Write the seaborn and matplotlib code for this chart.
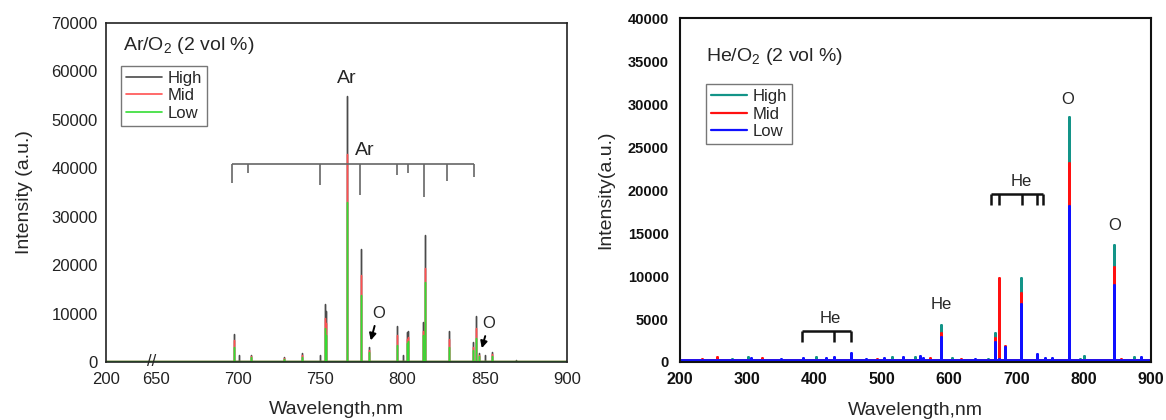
import numpy as np
import pandas as pd
import matplotlib
matplotlib.use("Agg")
import matplotlib.pyplot as plt
from matplotlib.ticker import AutoMinorLocator, FixedLocator
import seaborn as sns

# ---- Ar/O2 panel (stick spectrum: wavelength, intensity per power level)
ar_wl = [697.4, 700.3, 707.8, 728.0, 739.0, 750.0, 752.7, 753.5, 766.0, 774.7,
         779.5, 796.6, 800.0, 802.5, 803.5, 812.2, 813.6, 828.4, 842.6, 844.4,
         846.5, 850.0, 854.2, 868.8]
ar_high = [5700, 1400, 1500, 1100, 1900, 1500, 12000, 10500, 55000, 23300,
           3100, 7400, 1500, 6100, 6500, 8200, 26300, 6300, 4100, 9500,
           1900, 1500, 2100, 500]
ar_mid = [4500, 150, 1300, 900, 1500, 150, 9100, 8000, 43000, 18000,
          2500, 5500, 150, 4800, 5200, 6500, 19500, 4700, 3200, 7000,
          1500, 150, 1700, 300]
ar_low = [3000, 150, 1000, 700, 1100, 150, 7000, 5500, 33000, 13800,
          2000, 3500, 150, 4000, 4300, 5500, 16500, 3000, 2500, 5000,
          1200, 150, 1300, 200]
ar_base = 150

# Ar bracket (line positions marked above the spectrum)
ar_bracket_wl = [696.2, 706.0, 749.8, 774.1, 796.6, 803.3, 813.0, 827.0, 843.4]
ar_bracket_low = [37000, 39000, 36500, 34500, 38600, 39000, 34100, 37400, 38200]
ar_bracket_top = 40900

# ---- He/O2 panel main lines
he_wl = [588.4, 668.6, 674.0, 683.0, 706.8, 731.0, 777.6, 845.5]
he_high = [4300, 3400, 2500, 1700, 9750, 700, 28500, 13600]
he_mid = [3400, 2800, 9750, 1900, 8000, 700, 23100, 11000]
he_low = [2900, 2300, 300, 1750, 6700, 900, 18100, 9000]
he_base = 250

# small spikes along the He/O2 baseline
he_small_wl = [233, 255, 277.7, 301.6, 305.5, 322, 350, 383, 401.7, 417,
               428.6, 454.7, 476, 493, 503, 515, 530.7, 550, 556, 561,
               571, 604, 618, 638, 657.6, 742.4, 752.5, 794.5, 800, 856,
               875, 884.6]
he_small_val = [350, 540, 400, 540, 450, 480, 350, 500, 540, 450,
                620, 1100, 350, 400, 500, 600, 540, 540, 700, 500,
                480, 500, 400, 350, 400, 500, 450, 400, 750, 400,
                600, 600]
he_small_lvl = ["Mid", "Mid", "High", "High", "Low", "Mid", "Low", "Low", "High", "Low",
                "Low", "Low", "Low", "Mid", "Low", "High", "Low", "High", "Low", "Low",
                "Mid", "High", "Mid", "Low", "High", "Low", "Low", "High", "High", "Mid",
                "High", "Low"]

# He brackets
he_br1_wl = [381.0, 428.6, 454.7]
he_br1_top, he_br1_low = 3650, 2360
he_br2_wl = [661.7, 674.0, 708.0, 730.0, 740.0]
he_br2_top, he_br2_low = 19500, 18200

levels = ["High", "Mid", "Low"]


def stick_frame(series, base, lo, hi):
    rows = []
    for name, (wl, vals) in series.items():
        pairs = sorted(zip(wl, vals))
        xs, ys = [lo], [base]
        for w, v in pairs:
            xs += [w, w, w]
            ys += [base, v, base]
        xs.append(hi)
        ys.append(base)
        rows.append(pd.DataFrame({"wavelength": xs, "intensity": ys, "level": name}))
    return pd.concat(rows, ignore_index=True)


sns.set_theme(style="white")
plt.rcParams["font.family"] = ["Liberation Sans", "DejaVu Sans"]
plt.rcParams["mathtext.fontset"] = "custom"
plt.rcParams["mathtext.rm"] = "Liberation Sans"

fig = plt.figure(figsize=(11.66, 4.2), dpi=100)
ax1 = fig.add_axes([0.0909, 0.1381, 0.3954, 0.8071])
ax2 = fig.add_axes([0.5832, 0.1381, 0.4039, 0.8190])

# ---------------- left panel ----------------
ar_df = stick_frame({"High": (ar_wl, ar_high), "Mid": (ar_wl, ar_mid),
                     "Low": (ar_wl, ar_low)}, ar_base, 200, 900)


def fwd(x):
    x = np.asarray(x, dtype=float)
    return np.where(x < 650, (x - 200) * 50.0 / 450.0, 50.0 + (x - 650) * 411.0 / 250.0)


def inv(u):
    u = np.asarray(u, dtype=float)
    return np.where(u < 50, 200 + u * 450.0 / 50.0, 650 + (u - 50) * 250.0 / 411.0)


ax1.set_xscale("function", functions=(fwd, inv))
sns.lineplot(data=ar_df, x="wavelength", y="intensity", hue="level", hue_order=levels,
             palette=["#4a4a4a", "#ff5050", "#33dd33"], estimator=None, sort=False,
             linewidth=1.0, ax=ax1)
ax1.set_xlim(200, 900)
ax1.set_ylim(0, 70000)
ax1.xaxis.set_major_locator(FixedLocator([200, 650, 700, 750, 800, 850, 900]))
ax1.xaxis.set_minor_locator(FixedLocator([]))
ax1.set_yticks(range(0, 70001, 10000))
ax1.yaxis.set_minor_locator(AutoMinorLocator(2))
ax1.tick_params(axis="both", which="both", direction="in", labelsize=12, width=1, colors="#222")
ax1.tick_params(axis="y", which="major", length=5, pad=6)
ax1.tick_params(axis="y", which="minor", length=3)
ax1.tick_params(axis="x", which="major", length=4, pad=7)
for s in ax1.spines.values():
    s.set_color("#222")
    s.set_linewidth(1.2)
ax1.set_xlabel("Wavelength,nm", fontsize=14, labelpad=10)
ax1.set_ylabel("Intensity (a.u.)", fontsize=14, labelpad=13)

# Ar bracket
ax1.hlines(ar_bracket_top, ar_bracket_wl[0], ar_bracket_wl[-1], color="#666", lw=1.2)
ax1.vlines(ar_bracket_wl, ar_bracket_low, ar_bracket_top, color="#666", lw=1.2)
ax1.text(766.2, 58600, "Ar", ha="center", va="center", fontsize=14)
ax1.text(777.0, 43600, "Ar", ha="center", va="center", fontsize=14)
ax1.text(785.6, 10100, "O", ha="center", va="center", fontsize=12)
ax1.annotate("", xy=(780.2, 3900), xytext=(783.4, 8000),
             arrowprops=dict(arrowstyle="-|>", color="black", lw=1.4, mutation_scale=10))
ax1.text(852.6, 8050, "O", ha="center", va="center", fontsize=12)
ax1.annotate("", xy=(847.7, 2300), xytext=(850.7, 5900),
             arrowprops=dict(arrowstyle="-|>", color="black", lw=1.4, mutation_scale=10))
ax1.text(614, 0, "//", ha="center", va="center", fontsize=12)
ax1.text(0.036, 0.935, "Ar/O$_\\mathregular{2}$ (2 vol %)", transform=ax1.transAxes,
         ha="left", va="center", fontsize=14)

sns.move_legend(ax1, "upper left", bbox_to_anchor=(0.032, 0.874), title=None,
                frameon=True, fancybox=False, edgecolor="#555", fontsize=12,
                handlelength=2.2, handletextpad=0.3, labelspacing=0.15,
                borderpad=0.3, borderaxespad=0)
for h in ax1.get_legend().legend_handles:
    h.set_linewidth(1.2)
ax1.get_legend().get_frame().set_linewidth(1.0)

# ---------------- right panel ----------------
small = {lv: ([w for w, l in zip(he_small_wl, he_small_lvl) if l == lv],
              [v for v, l in zip(he_small_val, he_small_lvl) if l == lv]) for lv in levels}
he_series = {
    "High": (he_wl + small["High"][0], he_high + small["High"][1]),
    "Mid": (he_wl + small["Mid"][0], he_mid + small["Mid"][1]),
    "Low": (he_wl + small["Low"][0], he_low + small["Low"][1]),
}
he_df = stick_frame(he_series, he_base, 200, 900)
sns.lineplot(data=he_df, x="wavelength", y="intensity", hue="level", hue_order=levels,
             palette=["#139488", "#ff1010", "#1010ff"], estimator=None, sort=False,
             linewidth=2.0, ax=ax2)
ax2.set_xlim(200, 900)
ax2.set_ylim(0, 40000)
ax2.set_xticks(range(200, 901, 100))
ax2.set_yticks(range(0, 40001, 5000))
ax2.yaxis.set_minor_locator(AutoMinorLocator(2))
ax2.tick_params(axis="both", which="both", direction="in", width=1.2, colors="#111")
ax2.tick_params(axis="y", which="major", length=6, pad=8, labelsize=10.5)
ax2.tick_params(axis="y", which="minor", length=3)
ax2.tick_params(axis="x", which="major", length=4, pad=7, labelsize=11.5)
for lab in ax2.get_xticklabels() + ax2.get_yticklabels():
    lab.set_fontweight("bold")
for s in ax2.spines.values():
    s.set_color("#111")
    s.set_linewidth(1.5)
ax2.set_xlabel("Wavelength,nm", fontsize=14, labelpad=11)
ax2.set_ylabel("Intensity(a.u.)", fontsize=14, labelpad=10)

for wl, top, low in [(he_br1_wl, he_br1_top, he_br1_low), (he_br2_wl, he_br2_top, he_br2_low)]:
    ax2.hlines(top, wl[0], wl[-1], color="#111", lw=1.8)
    ax2.vlines(wl, low, top, color="#111", lw=1.8)
ax2.text(423, 5100, "He", ha="center", va="center", fontsize=12)
ax2.text(588.7, 6630, "He", ha="center", va="center", fontsize=12)
ax2.text(707.8, 21000, "He", ha="center", va="center", fontsize=12)
ax2.text(776, 30470, "O", ha="center", va="center", fontsize=12)
ax2.text(846.5, 15850, "O", ha="center", va="center", fontsize=12)
ax2.text(0.055, 0.887, "He/O$_\\mathregular{2}$ (2 vol %)", transform=ax2.transAxes,
         ha="left", va="center", fontsize=14)

sns.move_legend(ax2, "upper left", bbox_to_anchor=(0.0546, 0.808), title=None,
                frameon=True, fancybox=False, edgecolor="#555", fontsize=12,
                handlelength=2.2, handletextpad=0.3, labelspacing=0.15,
                borderpad=0.3, borderaxespad=0)
for h in ax2.get_legend().legend_handles:
    h.set_linewidth(1.6)
ax2.get_legend().get_frame().set_linewidth(1.0)

fig.savefig("out.png", dpi=100)
